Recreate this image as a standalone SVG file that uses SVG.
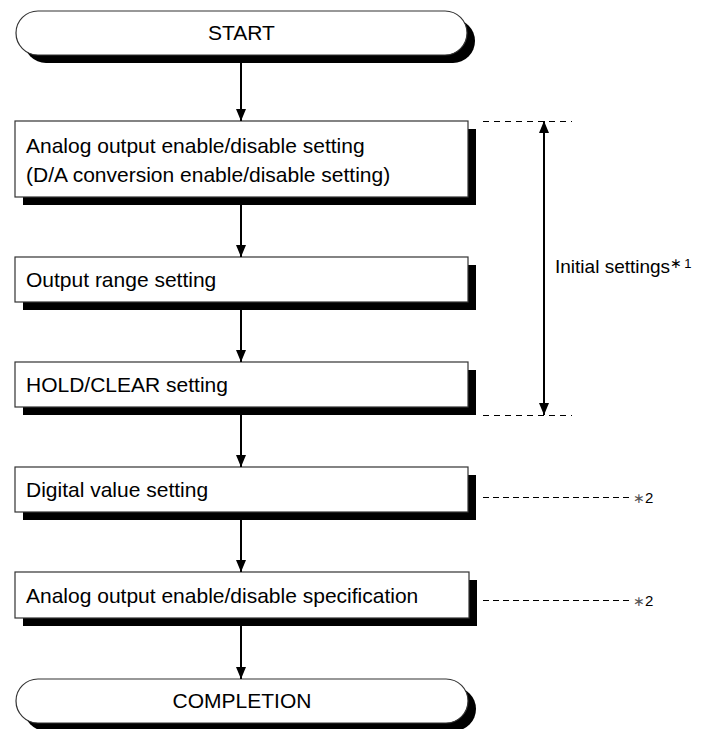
<svg xmlns="http://www.w3.org/2000/svg" width="704" height="729" viewBox="0 0 704 729">
<style>
.t{font-family:"Liberation Sans",Arial,sans-serif;font-size:21px;fill:#000}
.s{font-family:"Liberation Sans",Arial,sans-serif;font-size:19px;fill:#000}
.sup{font-family:"Liberation Sans",Arial,sans-serif;fill:#000}
.box{fill:#fff;stroke:#333;stroke-width:1.2}
.sh{fill:#000}
.c{stroke:#000;stroke-width:2;fill:none}
.d{stroke:#000;stroke-width:1;stroke-dasharray:6,5;fill:none}
</style>
<defs>
<marker id="av" viewBox="0 0 12 10" refX="12" refY="5" markerWidth="12" markerHeight="10" markerUnits="userSpaceOnUse" orient="auto-start-reverse">
<path d="M0,0 L12,5 L0,10 Z" fill="#000"/>
</marker>
</defs>
<rect width="704" height="729" fill="#fff"/>

<g id="start">
<rect class="sh" x="24" y="19" width="451" height="44" rx="22"/>
<rect class="box" x="16" y="11" width="451" height="44" rx="22"/>
<text class="t" x="241.5" y="40" text-anchor="middle">START</text>
</g>

<g id="box1">
<rect class="sh" x="23" y="129" width="453" height="76"/>
<rect class="box" x="15" y="121" width="453" height="76"/>
<text class="t" x="26" y="153">Analog output enable/disable setting</text>
<text class="t" x="26" y="182">(D/A conversion enable/disable setting)</text>
</g>

<g id="box2">
<rect class="sh" x="23" y="265" width="453" height="45"/>
<rect class="box" x="15" y="257" width="453" height="45"/>
<text class="t" x="26" y="287">Output range setting</text>
</g>

<g id="box3">
<rect class="sh" x="23" y="370" width="453" height="45"/>
<rect class="box" x="15" y="362" width="453" height="45"/>
<text class="t" x="26" y="392">HOLD/CLEAR setting</text>
</g>

<g id="box4">
<rect class="sh" x="23" y="475" width="453" height="45"/>
<rect class="box" x="15" y="467" width="453" height="45"/>
<text class="t" x="26" y="497">Digital value setting</text>
</g>

<g id="box5">
<rect class="sh" x="23" y="580" width="454" height="46"/>
<rect class="box" x="15" y="572" width="454" height="46"/>
<text class="t" x="26" y="603">Analog output enable/disable specification</text>
</g>

<g id="completion">
<rect class="sh" x="24" y="687" width="452" height="44" rx="22"/>
<rect class="box" x="16" y="679" width="452" height="44" rx="22"/>
<text class="t" x="242" y="708" text-anchor="middle">COMPLETION</text>
</g>

<g id="connectors">
<line class="c" x1="241" y1="63" x2="241" y2="121" marker-end="url(#av)"/>
<line class="c" x1="241" y1="205" x2="241" y2="257" marker-end="url(#av)"/>
<line class="c" x1="241" y1="310" x2="241" y2="362" marker-end="url(#av)"/>
<line class="c" x1="241" y1="415" x2="241" y2="467" marker-end="url(#av)"/>
<line class="c" x1="241" y1="520" x2="241" y2="572" marker-end="url(#av)"/>
<line class="c" x1="241" y1="626" x2="241" y2="679" marker-end="url(#av)"/>
</g>

<g id="initial-settings">
<line class="d" x1="483" y1="121.5" x2="572" y2="121.5"/>
<line class="d" x1="483" y1="415.5" x2="572" y2="415.5"/>
<line class="c" x1="544" y1="121" x2="544" y2="415" marker-start="url(#av)" marker-end="url(#av)"/>
<text class="s" x="555" y="273">Initial settings<tspan class="sup" font-size="14" dy="-5" fill="#555">∗</tspan><tspan class="sup" font-size="13" dx="2">1</tspan></text>
</g>

<g id="note2a">
<line class="d" x1="483" y1="497.5" x2="633" y2="497.5" style="stroke-dasharray:6,4"/>
<text class="sup" x="633" y="503" font-size="15"><tspan fill="#555" font-size="14">∗</tspan>2</text>
</g>
<g id="note2b">
<line class="d" x1="483" y1="600.5" x2="633" y2="600.5" style="stroke-dasharray:6,4"/>
<text class="sup" x="633" y="606" font-size="15"><tspan fill="#555" font-size="14">∗</tspan>2</text>
</g>
</svg>
